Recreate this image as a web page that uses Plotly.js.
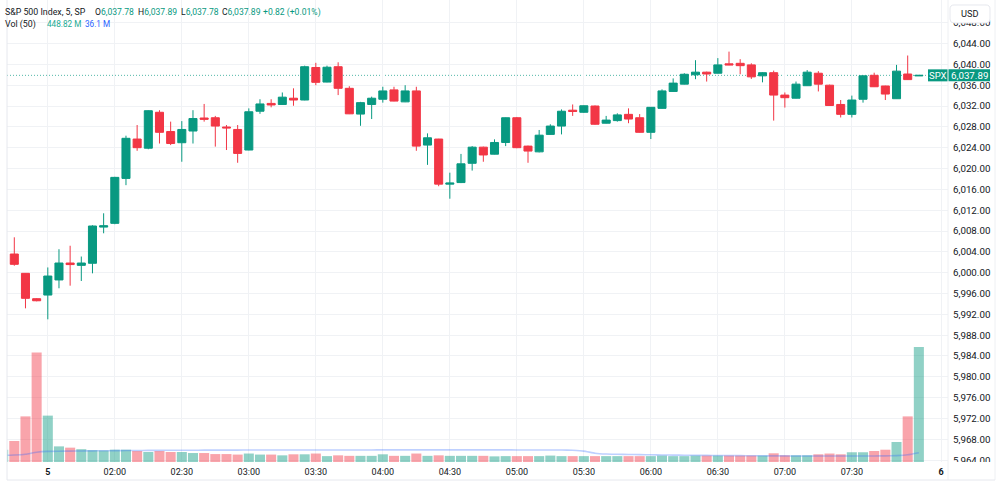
<!DOCTYPE html>
<html>
<head>
<meta charset="utf-8">
<script src="https://cdn.plot.ly/plotly-3.0.1.min.js"></script>
<style>
  html, body { margin: 0; padding: 0; background: #ffffff; }
  #chart { width: 1000px; height: 484px; }
</style>
</head>
<body>
<div id="chart"></div>
<script>
// S&P 500 Index (SPX), 5-minute bars, with volume and its 50-bar moving average.
// Bars are placed on a running bar index; index 3 is the 01:30 session open of day 5.

const openPx = [6003.58, 5999.87, 5995.00, 5995.70, 5998.60, 6001.85, 6001.40, 6001.80, 6008.75, 6009.47,
  6018.10, 6025.66, 6023.90, 6030.80, 6027.10, 6024.95, 6027.20, 6029.70, 6029.75, 6027.97,
  6027.50, 6023.55, 6031.00, 6032.50, 6032.30, 6033.50, 6033.15, 6039.40, 6036.60, 6039.55,
  6035.40, 6030.45, 6032.30, 6033.30, 6035.10, 6032.80, 6034.90, 6024.50, 6025.66, 6017.00,
  6017.30, 6021.00, 6024.10, 6022.75, 6025.00, 6029.75, 6024.30, 6023.20, 6026.55, 6028.15,
  6031.20, 6030.80, 6032.00, 6028.70, 6029.20, 6030.40, 6029.75, 6026.95, 6031.55, 6034.80,
  6036.20, 6038.00, 6038.50, 6038.30, 6040.10, 6040.20, 6039.90, 6037.80, 6038.40, 6034.10,
  6033.50, 6035.90, 6038.30, 6036.00, 6032.30, 6030.40, 6033.30, 6037.90, 6035.85, 6033.40,
  6038.15, 6037.78];

const highPx = [6006.79, 5999.90, 5995.10, 6001.00, 6004.50, 6005.17, 6003.10, 6009.10, 6011.40, 6018.40,
  6026.30, 6028.35, 6031.20, 6031.20, 6029.00, 6029.10, 6031.20, 6032.40, 6030.10, 6028.35,
  6028.35, 6031.55, 6033.30, 6033.30, 6034.60, 6035.40, 6039.75, 6040.30, 6039.75, 6040.40,
  6035.80, 6032.80, 6033.80, 6035.70, 6035.70, 6036.00, 6035.70, 6026.75, 6025.70, 6019.20,
  6022.80, 6024.30, 6024.20, 6025.60, 6029.80, 6029.90, 6024.40, 6027.40, 6028.50, 6031.35,
  6032.30, 6032.10, 6032.10, 6030.10, 6030.60, 6031.55, 6030.45, 6031.80, 6035.20, 6037.30,
  6038.30, 6040.80, 6038.60, 6041.20, 6042.45, 6041.00, 6040.20, 6038.50, 6038.80, 6034.60,
  6036.70, 6038.90, 6038.70, 6036.10, 6033.15, 6034.00, 6037.85, 6038.40, 6035.90, 6039.90,
  6041.70, 6037.89];

const lowPx = [6001.33, 5993.15, 5994.50, 5991.04, 5997.00, 5997.50, 5998.40, 5999.87, 6007.56, 6009.30,
  6016.80, 6023.40, 6023.70, 6024.80, 6024.50, 6021.30, 6024.80, 6029.00, 6024.20, 6023.55,
  6021.10, 6023.50, 6030.50, 6031.75, 6032.25, 6032.05, 6033.10, 6036.00, 6036.55, 6034.10,
  6030.45, 6028.20, 6029.50, 6032.65, 6032.90, 6032.75, 6023.40, 6020.70, 6016.60, 6014.20,
  6017.20, 6019.60, 6021.30, 6022.70, 6024.30, 6023.90, 6021.10, 6023.10, 6026.50, 6026.55,
  6030.10, 6030.70, 6028.40, 6028.65, 6029.00, 6028.70, 6026.90, 6025.66, 6031.50, 6034.75,
  6036.15, 6037.15, 6036.70, 6038.25, 6039.85, 6038.10, 6037.20, 6036.55, 6029.20, 6031.70,
  6033.45, 6035.85, 6034.80, 6032.05, 6029.80, 6029.80, 6032.65, 6035.65, 6033.15, 6033.35,
  6037.00, 6037.78];

const closePx = [6001.60, 5995.07, 5994.60, 5999.35, 6001.85, 6001.55, 6001.85, 6008.96, 6009.00, 6018.30,
  6025.80, 6024.00, 6031.10, 6026.95, 6024.80, 6027.50, 6029.60, 6029.45, 6028.15, 6027.80,
  6022.90, 6030.90, 6032.40, 6032.20, 6033.70, 6033.15, 6039.55, 6036.55, 6039.45, 6035.40,
  6030.50, 6032.65, 6033.50, 6034.90, 6032.95, 6034.90, 6024.30, 6025.90, 6017.00, 6017.20,
  6020.90, 6024.10, 6022.60, 6025.00, 6029.75, 6024.00, 6023.35, 6026.40, 6028.15, 6031.00,
  6030.95, 6032.05, 6028.50, 6029.30, 6030.30, 6029.50, 6026.95, 6031.75, 6034.90, 6036.40,
  6038.10, 6038.50, 6038.15, 6039.90, 6039.90, 6039.75, 6037.60, 6038.40, 6034.10, 6033.60,
  6036.20, 6038.50, 6036.20, 6032.10, 6030.40, 6033.15, 6037.80, 6035.70, 6034.30, 6038.70,
  6037.07, 6037.89];

// Volume in millions; the first value belongs to the bar just left of the visible candles.
const volumeFirstIndex = -1;
const volumeFirstUp = true;
const volumeM = [48,
  82, 178, 427, 181, 61, 56, 50, 46, 45, 48,
  48, 43, 39, 43, 39, 39, 35, 35, 31, 31,
  29, 33, 29, 29, 26, 30, 30, 33, 23, 26,
  24, 24, 24, 30, 24, 24, 33, 24, 26, 24,
  24, 24, 24, 22, 23, 23, 23, 23, 25, 23,
  23, 23, 23, 23, 23, 23, 23, 23, 25, 23,
  23, 25, 25, 25, 25, 25, 25, 25, 34, 26,
  26, 26, 30, 33, 30, 38, 38, 43, 48, 78,
  178, 448.82];

// 50-bar volume moving average, in millions, same indexing as volumeM.
const volumeMA50 = [26.0,
  27.1, 30.2, 38.2, 41.3, 42.0, 42.6, 43.1, 43.5, 43.9, 44.3,
  44.7, 45.0, 45.2, 45.5, 45.7, 45.9, 46.0, 46.2, 46.3, 46.4,
  46.5, 46.6, 46.7, 46.8, 46.8, 46.9, 47.0, 47.1, 47.1, 47.1,
  47.1, 47.1, 47.1, 47.2, 47.2, 47.2, 47.3, 47.3, 47.3, 47.3,
  47.3, 47.3, 47.3, 47.2, 47.2, 47.1, 47.1, 47.0, 47.0, 46.9,
  45.6, 42.5, 34.4, 31.2, 30.3, 29.5, 28.8, 28.2, 27.6, 27.0,
  26.5, 26.1, 25.7, 25.3, 25.0, 24.7, 24.4, 24.1, 24.0, 23.8,
  23.6, 23.4, 23.3, 23.3, 23.3, 23.4, 23.5, 23.7, 23.9, 24.9,
  28.0, 36.1];

// Time scale marks (bar index -> label)
const timeTickIndex = [3, 9, 15, 21, 27, 33, 39, 45, 51, 57, 63, 69, 75, 83];
const timeTickLabels = ['<b>5</b>', '02:00', '02:30', '03:00', '03:30', '04:00', '04:30',
  '05:00', '05:30', '06:00', '06:30', '07:00', '07:30', '<b>6</b>'];

// Price scale marks
const priceTicks = [5964, 5968, 5972, 5976, 5980, 5984, 5988, 5992, 5996, 6000, 6004,
  6008, 6012, 6016, 6020, 6024, 6028, 6032, 6036, 6040, 6044, 6048];

const symbolTitle = 'S&P 500 Index, 5, SP';
const symbolShort = 'SPX';
const currency = 'USD';
const volLabel = 'Vol (50)';

// ---- styling ----
const UP = '#089981', DOWN = '#F23645';
const UP_VOL = 'rgba(8,153,129,0.45)', DOWN_VOL = 'rgba(242,54,69,0.45)';
const TEXT = '#131722', GRID = '#f0f2f5', FRAME = '#e6e8ee';
const FONT = 'Roboto, "Liberation Sans", sans-serif';

const W = 1000, H = 484;
const plotL = 7, plotR = 948, plotT = 0, plotB = 462;
const px2x = p => (p - plotL) / (plotR - plotL);
const py2y = p => (plotB - p) / (plotB - plotT);

const n = closePx.length;
const barIdx = closePx.map((_, i) => i);
const volIdx = volumeM.map((_, i) => i + volumeFirstIndex);
const volColors = volIdx.map(i => {
  const up = i < 0 ? volumeFirstUp : closePx[i] >= openPx[i];
  return up ? UP_VOL : DOWN_VOL;
});

const fmt2 = v => v.toLocaleString('en-US', { minimumFractionDigits: 2, maximumFractionDigits: 2 });
const last = n - 1;
const lastClose = closePx[last];
const chg = closePx[last] - closePx[last - 1];
const chgPct = chg / closePx[last - 1] * 100;
const sign = v => (v >= 0 ? '+' : '−');

const traces = [
  {
    type: 'bar', x: volIdx, y: volumeM, yaxis: 'y2',
    width: 0.9,
    marker: { color: volColors, line: { width: 0 } },
    hoverinfo: 'skip'
  },
  {
    type: 'scatter', mode: 'lines', x: volIdx, y: volumeMA50, yaxis: 'y2',
    line: { color: 'rgba(41,98,255,0.3)', width: 1.6, shape: 'spline', smoothing: 0.4 },
    hoverinfo: 'skip'
  },
  {
    type: 'candlestick', x: barIdx,
    open: openPx, high: highPx, low: lowPx, close: closePx,
    increasing: { line: { color: UP, width: 1 }, fillcolor: UP },
    decreasing: { line: { color: DOWN, width: 1 }, fillcolor: DOWN },
    whiskerwidth: 0,
    hoverinfo: 'skip'
  }
];

// Rounded rectangle in paper coordinates from pixel corners
function roundRectPath(x0, y0, x1, y1, r) {
  const P = (x, y) => px2x(x).toFixed(5) + ',' + py2y(y).toFixed(5);
  return 'M' + P(x0 + r, y0) + ' L' + P(x1 - r, y0) + ' Q' + P(x1, y0) + ' ' + P(x1, y0 + r) +
    ' L' + P(x1, y1 - r) + ' Q' + P(x1, y1) + ' ' + P(x1 - r, y1) +
    ' L' + P(x0 + r, y1) + ' Q' + P(x0, y1) + ' ' + P(x0, y1 - r) +
    ' L' + P(x0, y0 + r) + ' Q' + P(x0, y0) + ' ' + P(x0 + r, y0) + ' Z';
}

const shapes = [
  // last price dotted line
  { type: 'line', layer: 'between', xref: 'paper', yref: 'y', x0: 0, x1: px2x(928), y0: lastClose, y1: lastClose,
    line: { color: 'rgba(8,153,129,0.7)', width: 1, dash: '1px,2px' } },
  // frame and scale borders
  { type: 'line', xref: 'paper', yref: 'paper', x0: px2x(7), x1: px2x(7), y0: py2y(0), y1: py2y(480), line: { color: FRAME, width: 1 } },
  { type: 'line', xref: 'paper', yref: 'paper', x0: px2x(plotR), x1: px2x(plotR), y0: py2y(0), y1: py2y(480), line: { color: '#eef0f3', width: 1 } },
  { type: 'line', xref: 'paper', yref: 'paper', x0: px2x(995), x1: px2x(995), y0: py2y(0), y1: py2y(480), line: { color: '#eef0f3', width: 1 } },
  { type: 'line', xref: 'paper', yref: 'paper', x0: px2x(7), x1: px2x(995), y0: py2y(480), y1: py2y(480), line: { color: FRAME, width: 1 } },
  // clip price labels at the bottom of the price scale
  { type: 'rect', xref: 'paper', yref: 'paper', x0: px2x(plotR + 1), x1: px2x(994), y0: py2y(462), y1: py2y(479),
    fillcolor: '#ffffff', line: { width: 0 } },
  // currency button
  { type: 'path', xref: 'paper', yref: 'paper', path: roundRectPath(950, 5, 990, 23, 4),
    fillcolor: '#ffffff', line: { color: FRAME, width: 1 } },
  // symbol and last price tags
  { type: 'rect', xref: 'paper', yref: 'y', ysizemode: 'pixel', yanchor: lastClose,
    x0: px2x(928), x1: px2x(947.5), y0: -6, y1: 6, fillcolor: UP, line: { width: 0 } },
  { type: 'rect', xref: 'paper', yref: 'y', ysizemode: 'pixel', yanchor: lastClose,
    x0: px2x(948.5), x1: px2x(990), y0: -6, y1: 6, fillcolor: UP, line: { width: 0 } }
];

const g = t => '<span style="color:' + UP + '">' + t + '</span>';
const header = [
  { x: 3.5, y: 12, size: 8.8, text: symbolTitle },
  { x: 94, y: 12, size: 8.6, text: 'O' + g(fmt2(openPx[last])) },
  { x: 136.5, y: 12, size: 8.6, text: 'H' + g(fmt2(highPx[last])) },
  { x: 179.5, y: 12, size: 8.6, text: 'L' + g(fmt2(lowPx[last])) },
  { x: 221, y: 12, size: 8.6, text: 'C' + g(fmt2(closePx[last])) },
  { x: 262, y: 12, size: 8.6, text: g(sign(chg) + Math.abs(chg).toFixed(2) + ' (' + sign(chgPct) + Math.abs(chgPct).toFixed(2) + '%)') },
  { x: 3.5, y: 24.3, size: 8.8, text: volLabel },
  { x: 45.5, y: 24.3, size: 8.2, text: '<span style="color:#22ab94">' + volumeM[volumeM.length - 1].toFixed(2) + ' M</span>' },
  { x: 83.5, y: 24.3, size: 8.2, text: '<span style="color:#2962ff">' + volumeMA50[volumeMA50.length - 1].toFixed(1) + ' M</span>' }
];

const annotations = header.map(h => ({
  xref: 'paper', yref: 'paper', x: px2x(h.x), y: py2y(h.y), xanchor: 'left', yanchor: 'middle',
  text: h.text, showarrow: false, font: { family: FONT, size: h.size, color: TEXT }, borderpad: 0
}));

annotations.push(
  { xref: 'paper', yref: 'paper', x: px2x(970), y: py2y(14), xanchor: 'center', yanchor: 'middle',
    text: currency, showarrow: false, font: { family: FONT, size: 9.2, color: TEXT } },
  { xref: 'paper', yref: 'y', x: px2x(937.7), y: lastClose, xanchor: 'center', yanchor: 'middle',
    text: symbolShort, showarrow: false, font: { family: FONT, size: 9.5, color: '#ffffff' } },
  { xref: 'paper', yref: 'y', x: px2x(969.5), y: lastClose, xanchor: 'center', yanchor: 'middle',
    text: fmt2(lastClose), showarrow: false, font: { family: FONT, size: 9.75, color: '#ffffff' } }
);

const layout = {
  width: W, height: H,
  margin: { l: plotL, r: W - plotR, t: plotT, b: H - plotB, pad: 0 },
  paper_bgcolor: '#ffffff', plot_bgcolor: '#ffffff',
  showlegend: false, hovermode: false,
  boxgap: 0.28, boxgroupgap: 0,
  xaxis: {
    type: 'linear', range: [-0.654, 83.61],
    tickmode: 'array', tickvals: timeTickIndex, ticktext: timeTickLabels,
    showgrid: true, gridcolor: GRID, gridwidth: 1, zeroline: false, showline: false,
    ticks: '', ticklabelstandoff: 3,
    tickfont: { family: FONT, size: 9, color: TEXT },
    rangeslider: { visible: false }, fixedrange: true
  },
  yaxis: {
    side: 'right', range: [5963.64, 6052.36],
    tickmode: 'array', tickvals: priceTicks, tickformat: ',.2f',
    showgrid: true, gridcolor: GRID, gridwidth: 1, zeroline: false, showline: false,
    ticks: '', ticklabelstandoff: 4,
    tickfont: { family: FONT, size: 9.75, color: TEXT },
    fixedrange: true
  },
  yaxis2: { overlaying: 'y', side: 'right', range: [0, 1803], visible: false, fixedrange: true },
  shapes: shapes,
  annotations: annotations
};

Plotly.newPlot('chart', traces, layout, { staticPlot: true, displayModeBar: false });
</script>
</body>
</html>
